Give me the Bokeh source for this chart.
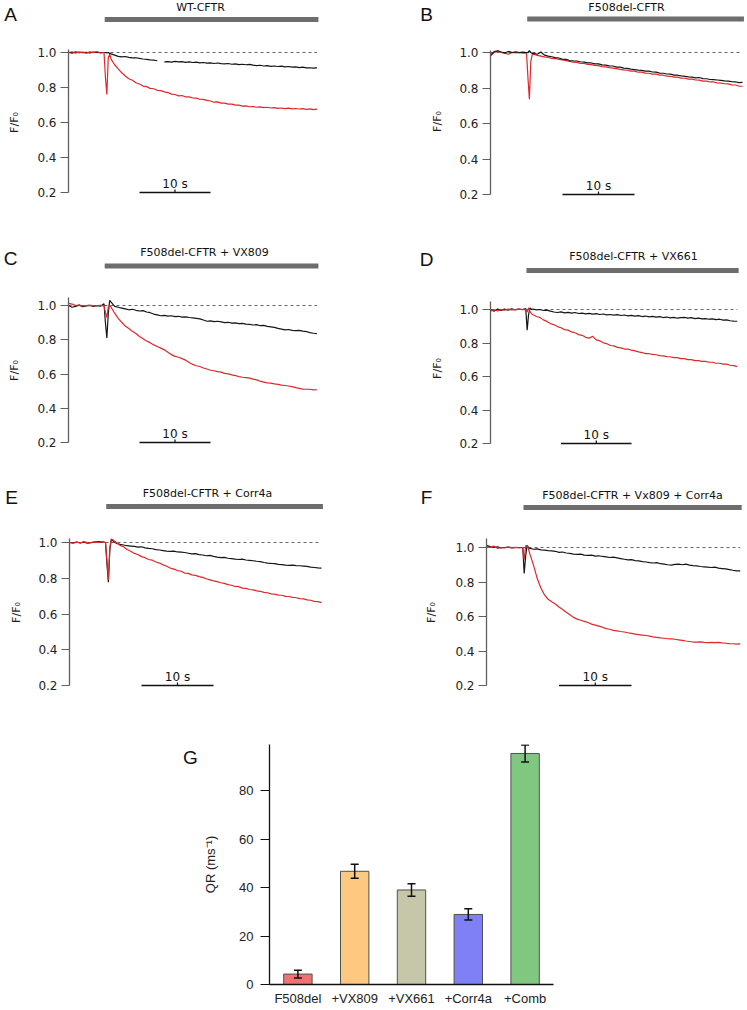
import math
import numpy as np
from bokeh.plotting import figure
from bokeh.layouts import column, row
from bokeh.models import (Range1d, FactorRange, FixedTicker, PrintfTickFormatter,
                          Label, ColumnDataSource, Whisker, TeeHead)
from bokeh.embed import file_html
from bokeh.resources import INLINE

nan = float("nan")

# ---------------- data ----------------
t_s = [0.0, 0.5, 1.0, 1.5, 2.0, 2.5, 3.0, 3.5, 4.0, 4.5, 5.0, 5.2, 5.4, 5.6, 5.8,
       6.0, 6.5, 7.0, 7.5, 8.0, 8.5, 9.0, 9.5, 10.0, 10.5,
       11.0, 11.5, 12.0, 12.5, 13.0, 13.5, 14.0, 14.5, 15.0, 15.5,
       16.0, 16.5, 17.0, 17.5, 18.0, 18.5, 19.0, 19.5, 20.0, 20.5,
       21.0, 21.5, 22.0, 22.5, 23.0, 23.5, 24.0, 24.5, 25.0, 25.5,
       26.0, 26.5, 27.0, 27.5, 28.0, 28.5, 29.0, 29.5, 30.0, 30.5,
       31.0, 31.5, 32.0, 32.5, 33.0, 33.5, 34.0, 34.5, 35.0]

a_black = [1.0, 1.002, 0.998, 1.003, 0.999, 1.001, 0.998, 1.002, 1.0, 0.999, 1.0, 1.0, 0.998, 1.0, 0.995,
           0.992, 0.985, 0.978, 0.975, 0.977, 0.972, 0.969, 0.970, 0.966, 0.963,
           0.961, 0.958, 0.956, 0.953, nan, 0.946, 0.948, 0.945, 0.949, 0.946,
           0.948, 0.944, 0.946, 0.943, 0.945, 0.941, 0.943, 0.939, 0.941, 0.937,
           0.940, 0.936, 0.935, 0.937, 0.933, 0.935, 0.931, 0.933, 0.930, 0.932,
           0.928, 0.925, 0.927, 0.923, 0.925, 0.921, 0.923, 0.920, 0.922, 0.918,
           0.920, 0.916, 0.918, 0.914, 0.916, 0.912, 0.913, 0.911, 0.912]
a_red = [1.0, 0.995, 1.005, 0.998, 1.003, 0.996, 1.004, 0.999, 1.006, 0.997, 1.0, 0.86, 0.76, 0.97, 0.99,
         0.962, 0.93, 0.907, 0.884, 0.866, 0.85, 0.841, 0.827, 0.82, 0.808,
         0.805, 0.795, 0.793, 0.784, 0.782, 0.775, 0.771, 0.762, 0.76, 0.752,
         0.754, 0.746, 0.746, 0.74, 0.739, 0.733, 0.732, 0.726, 0.723, 0.716,
         0.718, 0.711, 0.711, 0.705, 0.705, 0.699, 0.699, 0.694, 0.695, 0.69,
         0.691, 0.687, 0.689, 0.685, 0.687, 0.683, 0.685, 0.681, 0.683, 0.679,
         0.682, 0.678, 0.680, 0.677, 0.679, 0.675, 0.678, 0.674, 0.676]

b_black = [0.985, 1.005, 1.01, 1.003, 0.998, 1.006, 1.0, 1.004, 0.999, 1.002, 1.0, 1.0, 1.01, 1.0, 0.995,
           0.995, 0.99, 1.003, 0.985, 0.98, 0.976, 0.971, 0.969, 0.962, 0.961,
           0.955, 0.953, 0.952, 0.948, 0.946, 0.942, 0.941, 0.936, 0.936, 0.930,
           0.929, 0.925, 0.924, 0.918, 0.918, 0.912, 0.911, 0.906, 0.904, 0.901,
           0.899, 0.895, 0.895, 0.890, 0.889, 0.884, 0.883, 0.879, 0.878, 0.873,
           0.872, 0.868, 0.866, 0.863, 0.861, 0.857, 0.859, 0.853, 0.852, 0.848,
           0.847, 0.845, 0.843, 0.840, 0.839, 0.836, 0.835, 0.830, 0.832]
b_red = [0.98, 1.0, 1.008, 1.0, 0.995, 0.99, 1.0, 0.998, 1.0, 0.996, 0.998, 0.86, 0.737, 0.95, 0.99,
         0.99, 0.984, 0.98, 0.975, 0.972, 0.967, 0.966, 0.961, 0.958, 0.954,
         0.95, 0.945, 0.944, 0.939, 0.938, 0.933, 0.932, 0.927, 0.926, 0.92,
         0.919, 0.915, 0.912, 0.909, 0.905, 0.902, 0.9, 0.895, 0.895, 0.889,
         0.889, 0.884, 0.883, 0.878, 0.878, 0.872, 0.872, 0.867, 0.866, 0.861,
         0.861, 0.856, 0.855, 0.85, 0.85, 0.845, 0.844, 0.839, 0.839, 0.834,
         0.834, 0.829, 0.828, 0.824, 0.823, 0.818, 0.817, 0.811, 0.81]

c_black = [1.0, 0.99, 0.995, 1.002, 0.993, 0.998, 1.0, 0.994, 0.999, 0.996, 1.01, 0.9, 0.81, 0.95, 1.03,
           1.02, 0.995, 0.99, 0.985, 0.98, 0.975, 0.978, 0.972, 0.968, 0.97,
           0.962, 0.958, 0.95, 0.945, 0.94, 0.942, 0.938, 0.94, 0.935, 0.937,
           0.932, 0.934, 0.93, 0.928, 0.925, 0.922, 0.915, 0.908, 0.91, 0.906,
           0.908, 0.904, 0.9, 0.902, 0.897, 0.899, 0.894, 0.896, 0.891, 0.89,
           0.886, 0.888, 0.882, 0.884, 0.878, 0.875, 0.872, 0.866, 0.862, 0.858,
           0.86, 0.855, 0.853, 0.855, 0.85, 0.848, 0.842, 0.838, 0.835]
c_red = [1.012, 1.008, 1.0, 1.003, 0.998, 1.0, 1.002, 0.997, 1.0, 1.001, 0.998, 0.96, 0.93, 0.99, 1.0,
         0.99, 0.955, 0.925, 0.902, 0.88, 0.866, 0.849, 0.836, 0.819, 0.806,
         0.793, 0.783, 0.77, 0.761, 0.751, 0.741, 0.727, 0.713, 0.703, 0.698,
         0.69, 0.681, 0.667, 0.656, 0.648, 0.644, 0.635, 0.629, 0.622, 0.619,
         0.614, 0.611, 0.604, 0.601, 0.595, 0.591, 0.585, 0.581, 0.579, 0.576,
         0.57, 0.566, 0.558, 0.553, 0.548, 0.547, 0.542, 0.539, 0.535, 0.533,
         0.53, 0.526, 0.52, 0.516, 0.512, 0.511, 0.511, 0.507, 0.508]

d_black = [1.0, 0.99, 1.003, 0.995, 1.002, 0.996, 1.004, 0.998, 1.002, 1.0, 1.005, 0.877, 0.97, 1.01, 1.0,
           1.003, 0.998, 1.0, 0.994, 0.996, 0.99, 0.985, 0.982, 0.986, 0.98,
           0.983, 0.978, 0.982, 0.976, 0.978, 0.974, 0.977, 0.972, 0.975, 0.97,
           0.973, 0.968, 0.97, 0.966, 0.969, 0.964, 0.967, 0.962, 0.965, 0.96,
           0.963, 0.958, 0.961, 0.956, 0.959, 0.954, 0.957, 0.952, 0.955, 0.95,
           0.953, 0.948, 0.951, 0.953, 0.949, 0.951, 0.946, 0.949, 0.944, 0.946,
           0.942, 0.944, 0.94, 0.942, 0.937, 0.938, 0.933, 0.931, 0.93]
d_red = [0.99, 1.0, 0.992, 1.0, 0.996, 1.002, 0.998, 1.0, 1.002, 0.999, 1.0, 0.985, 1.01, 0.99, 0.975,
         0.97, 0.958, 0.953, 0.938, 0.929, 0.916, 0.909, 0.898, 0.891, 0.88,
         0.877, 0.866, 0.861, 0.85, 0.846, 0.834, 0.829, 0.84, 0.819, 0.813,
         0.801, 0.796, 0.785, 0.783, 0.774, 0.771, 0.764, 0.763, 0.757, 0.753,
         0.747, 0.743, 0.737, 0.736, 0.732, 0.73, 0.725, 0.723, 0.719, 0.718,
         0.713, 0.713, 0.707, 0.707, 0.701, 0.701, 0.695, 0.695, 0.69, 0.69,
         0.685, 0.685, 0.679, 0.679, 0.674, 0.674, 0.667, 0.665, 0.659]

e_black = [1.0, 0.998, 1.003, 0.997, 1.002, 0.996, 0.999, 1.002, 1.005, 1.004, 1.0, 0.88, 0.778, 0.96, 1.015,
           1.01, 0.995, 0.99, 0.986, 0.982, 0.98, 0.978, 0.974, 0.976, 0.97,
           0.967, 0.965, 0.96, 0.958, 0.955, 0.952, 0.95, 0.952, 0.947, 0.946,
           0.944, 0.94, 0.936, 0.938, 0.932, 0.93, 0.926, 0.928, 0.922, 0.918,
           0.915, 0.917, 0.912, 0.91, 0.907, 0.905, 0.907, 0.902, 0.9, 0.898,
           0.895, 0.893, 0.888, 0.885, 0.883, 0.882, 0.878, 0.876, 0.873, 0.872,
           0.873, 0.871, 0.87, 0.868, 0.866, 0.862, 0.86, 0.858, 0.857]
e_red = [1.0, 0.996, 1.002, 0.997, 1.005, 0.998, 1.0, 1.003, 1.0, 1.005, 1.0, 0.9, 0.79, 0.97, 1.02,
         1.015, 1.0, 0.984, 0.976, 0.961, 0.951, 0.939, 0.933, 0.921, 0.915,
         0.905, 0.901, 0.891, 0.885, 0.875, 0.867, 0.857, 0.851, 0.843, 0.839,
         0.829, 0.827, 0.819, 0.816, 0.809, 0.805, 0.797, 0.791, 0.785, 0.781,
         0.775, 0.771, 0.764, 0.761, 0.754, 0.753, 0.745, 0.743, 0.737, 0.735,
         0.729, 0.727, 0.721, 0.719, 0.713, 0.711, 0.706, 0.705, 0.699, 0.698,
         0.693, 0.691, 0.686, 0.685, 0.679, 0.677, 0.671, 0.669, 0.664]

f_black = [1.012, 1.005, 1.0, 1.004, 0.998, 1.0, 1.002, 0.998, 1.0, 1.0, 1.0, 0.85, 0.95, 1.012, 1.0,
           0.995, 0.99, 0.992, 0.986, 0.985, 0.982, 0.98, 0.978, 0.972, 0.974,
           0.968, 0.966, 0.962, 0.96, 0.962, 0.956, 0.954, 0.956, 0.95, 0.952,
           0.948, 0.946, 0.942, 0.944, 0.94, 0.936, 0.932, 0.928, 0.93, 0.924,
           0.922, 0.918, 0.916, 0.912, 0.91, 0.912, 0.906, 0.904, 0.9, 0.898,
           0.902, 0.904, 0.9, 0.904, 0.898, 0.895, 0.893, 0.89, 0.888, 0.886,
           0.884, 0.886, 0.88, 0.878, 0.876, 0.872, 0.868, 0.865, 0.864]
f_red = [1.005, 1.0, 1.008, 0.995, 1.0, 0.998, 1.002, 0.999, 1.001, 0.998, 1.0, 0.93, 1.01, 1.012, 0.99,
         0.96, 0.895, 0.82, 0.765, 0.725, 0.7, 0.685, 0.672, 0.655, 0.64,
         0.625, 0.61, 0.595, 0.585, 0.578, 0.572, 0.565, 0.556, 0.55, 0.544,
         0.538, 0.53, 0.526, 0.52, 0.517, 0.513, 0.51, 0.506, 0.502, 0.498,
         0.495, 0.492, 0.49, 0.486, 0.482, 0.479, 0.476, 0.474, 0.471, 0.47,
         0.468, 0.465, 0.462, 0.458, 0.455, 0.452, 0.451, 0.453, 0.45, 0.449,
         0.45, 0.448, 0.45, 0.447, 0.445, 0.443, 0.442, 0.44, 0.441]

panel_titles = ["WT-CFTR", "F508del-CFTR", "F508del-CFTR + VX809",
                "F508del-CFTR + VX661", "F508del-CFTR + Corr4a",
                "F508del-CFTR + Vx809 + Corr4a"]
panel_letters = ["A", "B", "C", "D", "E", "F"]
y_ticks = [0.2, 0.4, 0.6, 0.8, 1.0]
stim_on, stim_off = 5.1, 35.2     # s, grey bar
scale_bar = (10.0, 20.0)           # s, "10 s"
baseline = 1.0

categories = ["F508del", "+VX809", "+VX661", "+Corr4a", "+Comb"]
qr = [4.3, 46.7, 39.0, 28.9, 95.3]
qr_err = [1.6, 2.9, 2.6, 2.3, 3.5]
bar_colors = ["#ef7373", "#ffc880", "#c6c6a8", "#8080f6", "#80c880"]
qr_ticks = [0, 20, 40, 60, 80]

for tr in (a_black, a_red, b_black, b_red, c_black, c_red, d_black, d_red,
           e_black, e_red, f_black, f_red):
    assert len(tr) == len(t_s), len(tr)

RED = "#e2262a"
BLK = "#151515"
AX = "#5f5f5f"
FONT = "DejaVu Sans"


def trace_panel(black, red, title, letter, cfg, red_on_top=True):
    fl, ft, W, H = cfg["box"]
    ax, s = cfg["axis_x"], cfg["s"]
    y1, y02 = cfg["y1"], cfg["y02"]
    k = (y02 - y1) / 0.8

    def tx(X):
        return (X - ax) / s

    def ty(Y):
        return 1.0 - (Y - y1) / k

    p = figure(width=W, height=H, x_range=Range1d(tx(fl), tx(fl + W)),
               y_range=Range1d(ty(ft + H), ty(ft)),
               x_axis_location=None, toolbar_location=None, output_backend="svg",
               min_border=0, min_border_left=0, min_border_right=0, min_border_top=0,
               min_border_bottom=0, outline_line_color=None,
               background_fill_color="white", border_fill_color="white")
    p.grid.visible = False
    ya = p.yaxis[0]
    ya.fixed_location = 0
    ya.ticker = FixedTicker(ticks=y_ticks)
    ya.formatter = PrintfTickFormatter(format="%.1f")
    ya.bounds = (0.2, cfg["axis_top"])
    ya.axis_line_color = AX
    ya.axis_line_width = 1.3
    ya.major_tick_line_color = AX
    ya.major_tick_line_width = 1.2
    ya.major_tick_out = 8
    ya.major_tick_in = 0
    ya.minor_tick_line_color = None
    ya.major_label_standoff = 4
    ya.major_label_text_font = FONT
    ya.major_label_text_font_size = "12px"
    ya.major_label_text_color = "#222222"

    # baseline
    p.line([t_s[0], t_s[-1]], [baseline, baseline], line_color="#666666",
           line_width=1, line_dash="3 3")
    src = ColumnDataSource(dict(t=np.array(t_s, dtype=float),
                                k=np.array(black, dtype=float),
                                r=np.array(red, dtype=float)))
    if red_on_top:
        p.line("t", "k", source=src, line_color=BLK, line_width=1.2)
        p.line("t", "r", source=src, line_color=RED, line_width=1.2)
    else:
        p.line("t", "r", source=src, line_color=RED, line_width=1.2)
        p.line("t", "k", source=src, line_color=BLK, line_width=1.2)

    # stimulus bar
    by = ty(cfg["bar_y"])
    p.segment(x0=[stim_on], y0=[by], x1=[stim_off], y1=[by], line_color="#6d6d6d",
              line_width=5, line_cap="butt")
    # scale bar
    p.segment(x0=[scale_bar[0]], y0=[0.2], x1=[scale_bar[1]], y1=[0.2],
              line_color="#111111", line_width=1.5)
    mid = (scale_bar[0] + scale_bar[1]) / 2
    p.segment(x0=[mid], y0=[0.2], x1=[mid], y1=[0.2 + 3 / k], line_color="#111111",
              line_width=1.2)
    p.add_layout(Label(x=mid, y=0.2 + 1.5 / k, text="10 s", text_font=FONT,
                       text_font_size="12px", text_font_style="normal",
                       text_align="center", text_baseline="bottom",
                       text_color="#111111"))
    # title
    tX, tY = cfg["title"]
    p.add_layout(Label(x=tx(tX), y=ty(tY), text=title, text_font=FONT,
                       text_font_size="11px", text_font_style="normal",
                       text_align="center", text_baseline="middle",
                       text_color="#111111"))
    # letter
    lX, lY = cfg["letter"]
    p.add_layout(Label(x=tx(lX), y=ty(lY), text=letter, text_font="Liberation Sans",
                       text_font_size="19px", text_font_style="normal",
                       text_align="center", text_baseline="middle",
                       text_color="#111111"))
    # y label
    yX, yY = cfg["ylabel"]
    p.add_layout(Label(x=tx(yX), y=ty(yY), text="F/F\u2080", text_font=FONT,
                       text_font_size="11px", text_font_style="normal",
                       text_align="center", text_baseline="middle",
                       angle=math.pi / 2, text_color="#222222"))
    return p


cfgA = dict(box=(0, 0, 373, 236), axis_x=68, s=7.1, y1=52, y02=192, axis_top=1.02,
            bar_y=19, title=(200, 6.5), letter=(10, 13.5), ylabel=(14, 122))
cfgB = dict(box=(373, 0, 373, 236), axis_x=490, s=7.2, y1=52, y02=194, axis_top=1.012,
            bar_y=18.5, title=(626, 7), letter=(426, 13.5), ylabel=(437, 121))
cfgC = dict(box=(0, 236, 373, 226), axis_x=68, s=7.1, y1=305, y02=442, axis_top=1.045,
            bar_y=265.5, title=(204, 252), letter=(10, 258), ylabel=(14, 370))
cfgD = dict(box=(373, 236, 373, 226), axis_x=490, s=7.05, y1=309, y02=443, axis_top=1.05,
            bar_y=270, title=(633, 256), letter=(426, 259), ylabel=(437, 368))
cfgE = dict(box=(0, 462, 373, 230), axis_x=69, s=7.2, y1=542, y02=685, axis_top=1.025,
            bar_y=506, title=(207, 493), letter=(11, 497), ylabel=(16, 612))
cfgF = dict(box=(373, 462, 373, 230), axis_x=486, s=7.25, y1=547, y02=685, axis_top=1.05,
            bar_y=507, title=(632, 495), letter=(426, 497), ylabel=(431, 612))

pA = trace_panel(a_black, a_red, panel_titles[0], panel_letters[0], cfgA)
pB = trace_panel(b_black, b_red, panel_titles[1], panel_letters[1], cfgB, red_on_top=False)
pC = trace_panel(c_black, c_red, panel_titles[2], panel_letters[2], cfgC)
pD = trace_panel(d_black, d_red, panel_titles[3], panel_letters[3], cfgD)
pE = trace_panel(e_black, e_red, panel_titles[4], panel_letters[4], cfgE)
pF = trace_panel(f_black, f_red, panel_titles[5], panel_letters[5], cfgF)

# ---------------- panel G ----------------
G_Y0 = 692          # top of row
G_H = 316
G_LEFT = 200        # width of the letter strip
G_TOP = 52          # frame top = 744
G_FRAME = 240       # frame bottom = 984
G_BOTTOM = G_H - G_TOP - G_FRAME
G_YMAX = 99.0
g_k = G_FRAME / G_YMAX
g_frame_bottom = G_Y0 + G_TOP + G_FRAME

g_letter = figure(width=G_LEFT, height=G_H, x_range=Range1d(0, G_LEFT),
                  y_range=Range1d(0, G_YMAX), x_axis_location=None, y_axis_location=None,
                  toolbar_location=None, output_backend="svg", min_border=0,
                  min_border_left=0, min_border_right=0, min_border_top=G_TOP,
                  min_border_bottom=G_BOTTOM,
                  outline_line_color=None, background_fill_color="white",
                  border_fill_color="white")
g_letter.grid.visible = False
g_letter.add_layout(Label(x=190, y=(g_frame_bottom - 757) / g_k, text="G",
                          text_font="Liberation Sans", text_font_size="19px",
                          text_font_style="normal", text_align="center",
                          text_baseline="middle", text_color="#111111"))

pG = figure(width=746 - G_LEFT, height=G_H, x_range=FactorRange(*categories, range_padding=0),
            y_range=Range1d(0, G_YMAX), toolbar_location=None, output_backend="svg",
            min_border_left=263 - G_LEFT, min_border_right=746 - 553, min_border_top=G_TOP,
            min_border_bottom=G_BOTTOM, outline_line_color=None,
            background_fill_color="white", border_fill_color="white")
pG.grid.visible = False
gsrc = ColumnDataSource(dict(cat=categories, qr=qr, color=bar_colors,
                             upper=[v + e for v, e in zip(qr, qr_err)],
                             lower=[v - e for v, e in zip(qr, qr_err)]))
pG.vbar(x="cat", top="qr", width=0.5, fill_color="color", line_color="#505050",
        line_width=1, source=gsrc)
wh = Whisker(base="cat", upper="upper", lower="lower", source=gsrc,
             line_color="#111111", line_width=1.5, level="overlay",
             upper_head=TeeHead(size=8, line_width=1.5, line_color="#111111"),
             lower_head=TeeHead(size=8, line_width=1.5, line_color="#111111"))
pG.add_layout(wh)

gy = pG.yaxis[0]
gy.ticker = FixedTicker(ticks=qr_ticks)
gy.axis_line_color = "#111111"
gy.axis_line_width = 1.3
gy.major_tick_line_color = "#111111"
gy.major_tick_line_width = 1.2
gy.major_tick_out = 9
gy.major_tick_in = 0
gy.minor_tick_line_color = None
gy.major_label_standoff = 7
gy.major_label_text_font = "Liberation Sans"
gy.major_label_text_font_size = "13px"
gy.major_label_text_color = "#222222"
gy.axis_label = "QR (ms\u207b\u00b9)"
gy.axis_label_text_font = "Liberation Sans"
gy.axis_label_text_font_size = "13px"
gy.axis_label_text_font_style = "normal"
gy.axis_label_text_color = "#222222"
gy.axis_label_standoff = 18

gx = pG.xaxis[0]
gx.axis_line_color = "#111111"
gx.axis_line_width = 1.3
gx.major_tick_out = 0
gx.major_tick_in = 0
gx.minor_tick_line_color = None
gx.major_label_standoff = 6
gx.major_label_text_font = "Liberation Sans"
gx.major_label_text_font_size = "13px"
gx.major_label_text_color = "#222222"

layout = column(row(pA, pB), row(pC, pD), row(pE, pF), row(g_letter, pG))
open("out.html", "w").write(file_html(layout, INLINE))
